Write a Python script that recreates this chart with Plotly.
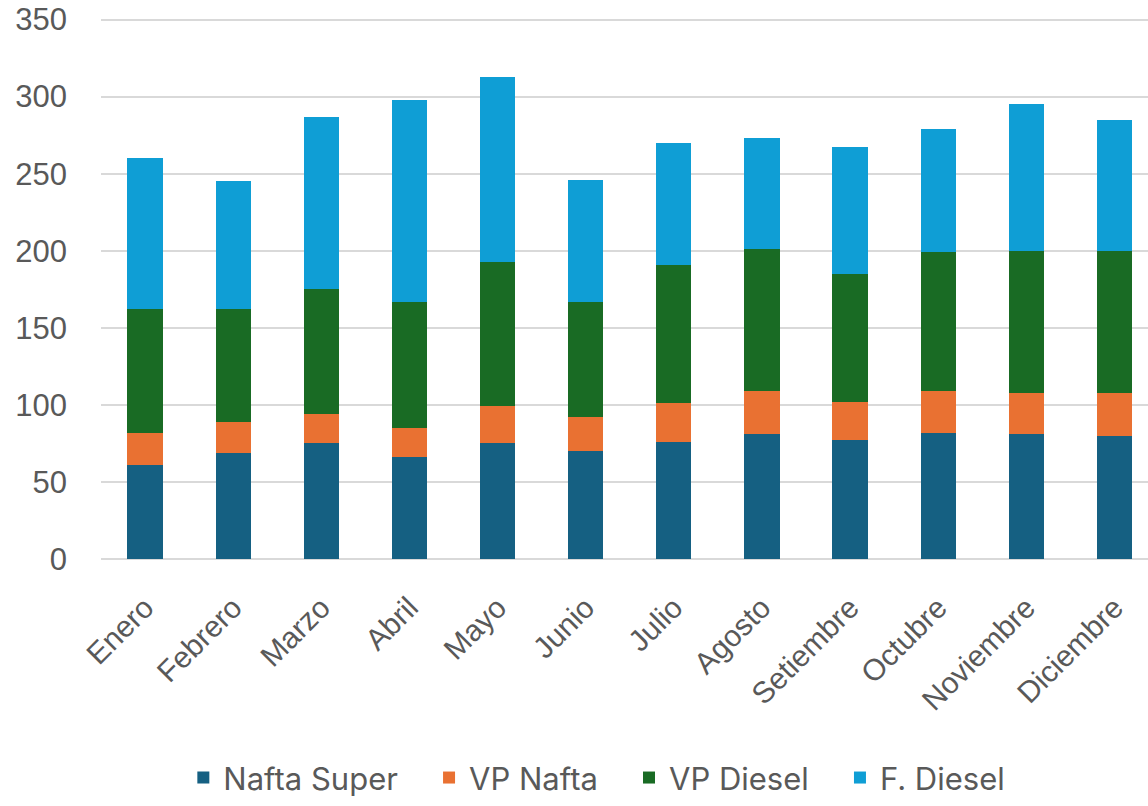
import plotly.graph_objects as go

meses = ["Enero", "Febrero", "Marzo", "Abril", "Mayo", "Junio", "Julio",
         "Agosto", "Setiembre", "Octubre", "Noviembre", "Diciembre"]
nafta_super = [61, 69, 75, 66, 75, 70, 76, 81, 77, 82, 81, 80]
vp_nafta = [21, 20, 19, 19, 24, 22, 25, 28, 25, 27, 27, 28]
vp_diesel = [80, 73, 81, 82, 94, 75, 90, 92, 83, 90, 92, 92]
f_diesel = [98, 83, 112, 131, 120, 79, 79, 72, 82, 80, 95, 85]

series = [
    ("Nafta Super", nafta_super, "#156082"),
    ("VP Nafta", vp_nafta, "#E97132"),
    ("VP Diesel", vp_diesel, "#196B24"),
    ("F. Diesel", f_diesel, "#0F9ED5"),
]

AXFONT = "Liberation Sans, Arial, sans-serif"
LEGFONT = "Inter, Lato, sans-serif"
PAD = "\u00a0\u00a0\u00a0"
fig = go.Figure()
for name, vals, color in series:
    fig.add_trace(go.Bar(x=meses, y=vals, name=name + PAD,
                         marker=dict(color=color, line=dict(width=0))))

fig.update_layout(
    barmode="stack",
    bargap=0.6,
    width=1148, height=806,
    margin=dict(l=101, r=0, t=18, b=247),
    plot_bgcolor="white", paper_bgcolor="white",
    font=dict(family=AXFONT, color="#595959", size=30),
    legend=dict(orientation="h", x=0.486, xanchor="center", y=-0.4545, yanchor="bottom",
                font=dict(size=31, color="#595959", family=LEGFONT),
                traceorder="normal", itemwidth=30),
    showlegend=True,
)
fig.update_xaxes(range=[-0.5, 11.38], tickangle=-45, showgrid=False,
                 showline=False, ticks="", ticklabelstandoff=24, automargin=False,
                 tickfont=dict(size=30, color="#595959", family=AXFONT))
fig.update_yaxes(range=[0, 351], dtick=50, showgrid=True, gridcolor="#D9D9D9",
                 gridwidth=1.5, zeroline=True, zerolinecolor="#D9D9D9",
                 zerolinewidth=1.5, ticks="", ticklabelstandoff=33, automargin=False,
                 ticklabeloverflow="allow",
                 tickfont=dict(size=31, color="#595959", family=AXFONT))

fig.write_html("out.html", config={"displayModeBar": False},
               post_script="document.body.style.margin='0';document.body.style.overflow='hidden';")
